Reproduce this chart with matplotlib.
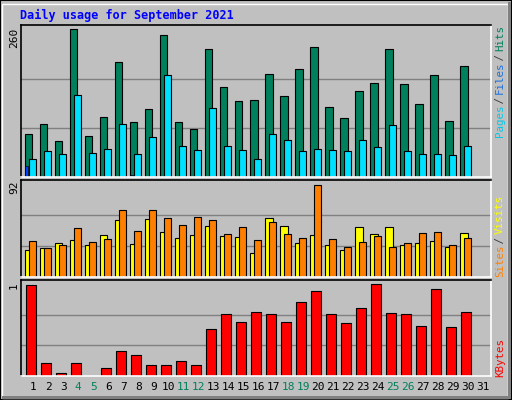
import matplotlib.pyplot as plt
import numpy as np
from matplotlib.patches import Rectangle

days = list(range(1, 32))
weekends = [4, 5, 11, 12, 18, 19, 25, 26]

hits = [75, 94, 64, 260, 73, 105, 202, 96, 119, 250, 96, 84, 226, 159, 133,
        136, 181, 142, 191, 228, 124, 103, 151, 166, 226, 163, 128, 179, 99, 195, 0]
files = [32, 45, 41, 145, 43, 50, 94, 41, 71, 179, 54, 48, 122, 55, 48,
         32, 75, 66, 45, 50, 48, 45, 66, 52, 91, 45, 41, 41, 38, 55, 0]
pages = [20, 0, 0, 0, 0, 0, 0, 3, 0, 0, 0, 0, 0, 0, 0,
         0, 0, 0, 0, 0, 0, 0, 0, 0, 0, 0, 0, 0, 0, 0, 0]
visits = [27, 29, 34, 37, 32, 42, 57, 33, 58, 45, 39, 42, 51, 41, 40,
          24, 59, 51, 34, 42, 32, 27, 50, 43, 50, 32, 34, 36, 30, 44, 0]
sites = [36, 29, 32, 49, 35, 38, 67, 46, 67, 59, 52, 60, 57, 43, 50,
         37, 55, 43, 39, 92, 38, 30, 35, 41, 30, 34, 44, 45, 32, 39, 0]
kbytes = [271, 40, 10, 40, 0, 25, 76, 64, 34, 34, 46, 34, 139, 184, 160,
          190, 184, 160, 220, 253, 184, 157, 202, 274, 187, 184, 148, 259, 145, 190, 0]
kbytes = [k / 274 for k in kbytes]

BG = '#C0C0C0'
GREEN = '#00805C'
mono = 'DejaVu Sans Mono'

fig = plt.figure(figsize=(5.12, 4), dpi=100, facecolor=BG)
W, H = 512, 400

# outer bevel
fig.patches.append(Rectangle((0, 0), 1, 1, transform=fig.transFigure, fill=False,
                             edgecolor='black', lw=1.5))
fig.patches.append(Rectangle((2 / W, 2 / H), 1 - 6 / W, 1 - 6 / H, transform=fig.transFigure,
                             fill=False, edgecolor='white', lw=1))
fig.patches.append(Rectangle((2 / W, 1 / H), 1 - 3 / W, 3 / H, transform=fig.transFigure,
                             color='#808080', lw=0))
fig.patches.append(Rectangle((1 - 4 / W, 1 / H), 3 / W, 1 - 3 / H, transform=fig.transFigure,
                             color='#808080', lw=0))


def make_ax(y0, y1):
    ax = fig.add_axes([20.7 / W, 1 - y1 / H, 470.3 / W, (y1 - y0) / H])
    ax.set_facecolor(BG)
    ax.set_xlim(0.16, 31.51)
    ax.set_xticks([])
    ax.set_yticks([])
    ax.spines['left'].set_color('black')
    ax.spines['top'].set_color('black')
    ax.spines['right'].set_color('white')
    ax.spines['bottom'].set_color('white')
    for s in ax.spines.values():
        s.set_linewidth(1.2)
    return ax


x = np.array(days)
bw = 0.47

ax1 = make_ax(25, 177)
ax1.set_ylim(0, 267.6)
for g in (86.7, 173.3):
    ax1.axhline(g, color='#808080', lw=1, zorder=0)
ax1.bar(x - 0.29, hits, bw, color=GREEN, edgecolor='black', lw=0.8)
ax1.bar(x - 0.03, files, bw, color='#00E0FF', edgecolor='black', lw=0.8)
ax1.bar(x - 0.45, pages, 0.15, color='#0040FF', edgecolor='black', lw=0.5)

ax2 = make_ax(180, 277)
ax2.set_ylim(0, 96.6)
for g in (30.7, 61.3):
    ax2.axhline(g, color='#808080', lw=1, zorder=0)
ax2.bar(x - 0.29, visits, bw, color='#FFFF00', edgecolor='black', lw=0.8)
ax2.bar(x - 0.03, sites, bw, color='#FF8000', edgecolor='black', lw=0.8)

ax3 = make_ax(280, 376)
ax3.set_ylim(0, 1.047)
for g in (1 / 3, 2 / 3):
    ax3.axhline(g, color='#808080', lw=1, zorder=0)
ax3.bar(x - 0.14, kbytes, 0.7, color='#FF0000', edgecolor='black', lw=0.8)

for d in days:
    ax3.text(d, -0.06, str(d), ha='center', va='top', family=mono, fontsize=8,
             color=GREEN if d in weekends else 'black')

fig.text(20 / W, 1 - 15 / H, 'Daily usage for September 2021', color='#0000FF',
         family=mono, fontweight='bold', fontsize=8.5, va='center')

fig.text(14 / W, 1 - 38 / H, '260', rotation=90, family=mono, fontsize=8, ha='center', va='center')
fig.text(14 / W, 1 - 187 / H, '92', rotation=90, family=mono, fontsize=8, ha='center', va='center')
fig.text(14 / W, 1 - 286 / H, '1', rotation=90, family=mono, fontsize=8, ha='center', va='center')


def side_label(parts, y_bottom):
    y = y_bottom
    for txt, col in parts:
        fig.text(500 / W, 1 - y / H, txt, rotation=90, family=mono, fontsize=7.8,
                 color=col, ha='center', va='bottom')
        y -= len(txt) * 5.4


side_label([('Pages', '#00C8E8'), (' / ', '#404040'), ('Files', '#1870E0'),
            (' / ', '#404040'), ('Hits', GREEN)], 137)
side_label([('Sites', '#FF8000'), (' / ', '#404040'), ('Visits', '#FFFF00')], 277)
side_label([('KBytes', '#FF0000')], 377)

fig.savefig('out.png', dpi=100, facecolor=BG)
